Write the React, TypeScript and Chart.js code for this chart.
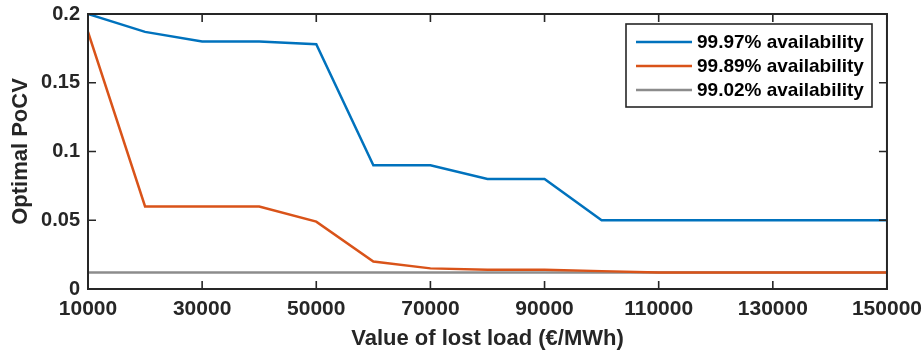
import React, { useEffect, useRef } from "react";
import { Chart, registerables } from "chart.js";

Chart.register(...registerables);

const xValues = [10000, 20000, 30000, 40000, 50000, 60000, 70000, 80000, 90000, 100000, 110000, 120000, 130000, 140000, 150000];
const series997 = [0.2, 0.187, 0.18, 0.18, 0.178, 0.09, 0.09, 0.08, 0.08, 0.05, 0.05, 0.05, 0.05, 0.05, 0.05];
const series989 = [0.187, 0.06, 0.06, 0.06, 0.049, 0.02, 0.015, 0.014, 0.014, 0.013, 0.012, 0.012, 0.012, 0.012, 0.012];
const series902 = [0.012, 0.012, 0.012, 0.012, 0.012, 0.012, 0.012, 0.012, 0.012, 0.012, 0.012, 0.012, 0.012, 0.012, 0.012];
const seriesLabels = ["99.97% availability", "99.89% availability", "99.02% availability"];
const xTitle = "Value of lost load (€/MWh)";
const yTitle = "Optimal PoCV";

const FONT = "Helvetica, Arial, 'Liberation Sans', sans-serif";
const DARK = "#262626";

const framePlugin = {
  id: "frameTicks",
  afterDatasetsDraw(chart: any) {
    const { ctx, chartArea } = chart;
    const { left, right, top, bottom } = chartArea;
    const xs = chart.scales.x;
    const ys = chart.scales.y;
    ctx.save();
    ctx.strokeStyle = DARK;
    ctx.lineWidth = 1.6;
    const tl = 8;
    ctx.beginPath();
    xs.ticks.forEach((t: any) => {
      const px = xs.getPixelForValue(t.value);
      ctx.moveTo(px, bottom);
      ctx.lineTo(px, bottom - tl);
      ctx.moveTo(px, top);
      ctx.lineTo(px, top + tl);
    });
    ys.ticks.forEach((t: any) => {
      const py = ys.getPixelForValue(t.value);
      ctx.moveTo(left, py);
      ctx.lineTo(left + tl, py);
      ctx.moveTo(right, py);
      ctx.lineTo(right - tl, py);
    });
    ctx.stroke();
    ctx.lineWidth = 2;
    ctx.strokeRect(left, top, right - left, bottom - top);

    // legend
    const bx = 626, by = 24, bw = 246, bh = 83;
    ctx.fillStyle = "#ffffff";
    ctx.fillRect(bx, by, bw, bh);
    ctx.lineWidth = 1.6;
    ctx.strokeStyle = DARK;
    ctx.strokeRect(bx, by, bw, bh);
    ctx.font = "bold 19px " + FONT;
    ctx.textBaseline = "middle";
    ctx.textAlign = "left";
    chart.data.datasets.forEach((ds: any, i: number) => {
      const yy = by + 18 + i * 24;
      ctx.strokeStyle = ds.borderColor;
      ctx.lineWidth = 2.5;
      ctx.beginPath();
      ctx.moveTo(bx + 10, yy);
      ctx.lineTo(bx + 66, yy);
      ctx.stroke();
      ctx.fillStyle = "#000000";
      ctx.fillText(ds.label, bx + 71, yy + 1);
    });
    ctx.restore();
  },
};

export default function App() {
  const ref = useRef<HTMLCanvasElement | null>(null);
  useEffect(() => {
    document.body.style.margin = "0";
    const mk = (arr: number[]) => xValues.map((x, i) => ({ x, y: arr[i] }));
    const chart = new Chart(ref.current as HTMLCanvasElement, {
      type: "line",
      data: {
        datasets: [
          { label: seriesLabels[0], data: mk(series997), borderColor: "#0072BD", borderWidth: 2.5, pointRadius: 0, tension: 0 },
          { label: seriesLabels[1], data: mk(series989), borderColor: "#D95319", borderWidth: 2.5, pointRadius: 0, tension: 0 },
          { label: seriesLabels[2], data: mk(series902), borderColor: "#8C8C8C", borderWidth: 2.5, pointRadius: 0, tension: 0 },
        ],
      },
      options: {
        animation: false,
        responsive: false,
        maintainAspectRatio: false,
        layout: { padding: { top: 14, right: 35, left: 0, bottom: 0 } },
        plugins: { legend: { display: false }, tooltip: { enabled: false } },
        scales: {
          x: {
            type: "linear",
            min: 10000,
            max: 150000,
            grid: { display: false },
            border: { display: false },
            ticks: {
              stepSize: 20000,
              color: DARK,
              font: { family: FONT, size: 21, weight: "bold" },
              padding: 0,
              maxRotation: 0,
              autoSkip: false,
              callback: (v: any) => String(v),
            },
            title: {
              display: true,
              text: xTitle,
              color: DARK,
              font: { family: FONT, size: 22, weight: "bold" },
              padding: { top: 4, bottom: 0 },
            },
            afterFit: (s: any) => { s.height = 63; },
          },
          y: {
            min: 0,
            max: 0.2,
            grid: { display: false },
            border: { display: false },
            ticks: {
              stepSize: 0.05,
              color: DARK,
              font: { family: FONT, size: 20, weight: "bold" },
              padding: 0,
              callback: (v: any) => String(Math.round(v * 100) / 100),
            },
            title: {
              display: true,
              text: yTitle,
              color: DARK,
              font: { family: FONT, size: 22, weight: "bold" },
              padding: { top: 8, bottom: 0 },
            },
            afterFit: (s: any) => { s.width = 88; },
          },
        },
      },
      plugins: [framePlugin],
    });
    return () => chart.destroy();
  }, []);
  return (
    <div style={{ position: "absolute", left: 0, top: 0, width: 922, height: 352, background: "#fff" }}>
      <canvas ref={ref} width={922} height={352} style={{ width: 922, height: 352 }} />
    </div>
  );
}
